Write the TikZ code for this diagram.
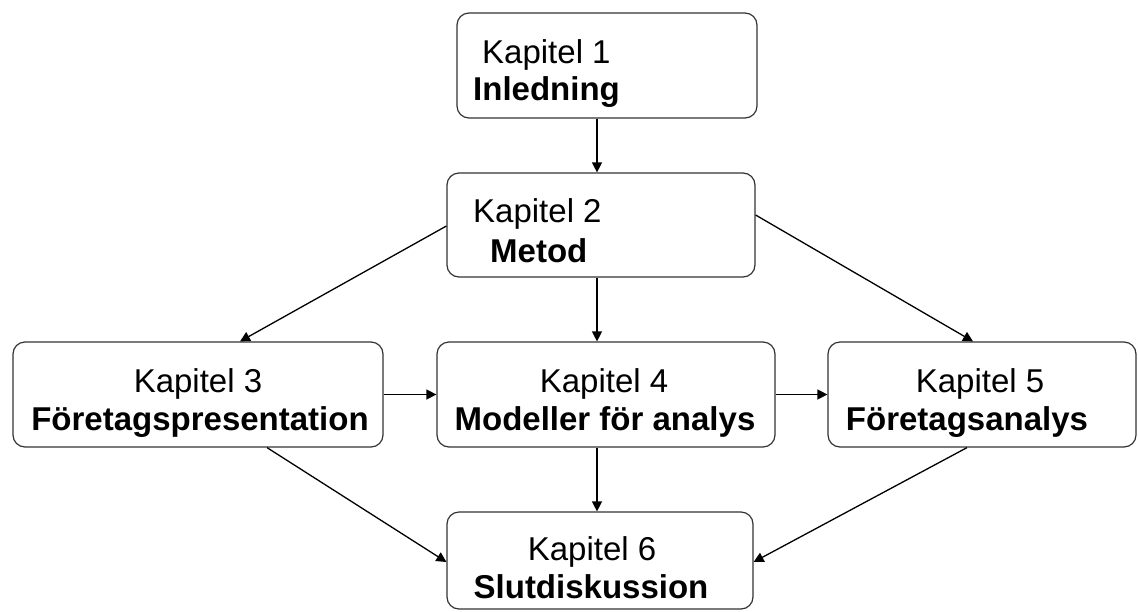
\documentclass[tikz,border=0pt]{standalone}
\usepackage{fontspec}
\setmainfont{Liberation Sans}
\usetikzlibrary{arrows.meta}
\begin{document}
\begin{tikzpicture}[x=1pt,y=-1pt,
  box/.style={draw=black!80, line width=1.2pt, rounded corners=12pt, rectangle, inner sep=0pt, fill=white},
  arr/.style={draw=black, line width=1.3pt, -{Triangle[length=10pt,width=10pt]}},
  lab/.style={inner sep=0pt, font=\fontsize{33}{38}\selectfont},
  blab/.style={lab, font=\fontsize{33}{38}\selectfont\bfseries}]
\useasboundingbox (0,0) rectangle (1138,611);
% boxes
\node[box, minimum width=300pt, minimum height=105pt] (b1) at (607,65.5) {};
\node[box, minimum width=308pt, minimum height=104pt] (b2) at (601,225) {};
\node[box, minimum width=370pt, minimum height=105pt] (b3) at (198,394.5) {};
\node[box, minimum width=338pt, minimum height=105pt] (b4) at (606,394.5) {};
\node[box, minimum width=308pt, minimum height=105pt] (b5) at (982,394.5) {};
\node[box, minimum width=306pt, minimum height=97pt] (b6) at (600,560.5) {};
% texts
\node[lab, anchor=base west] (t1a) at (482,63) {Kapitel 1};
\node[blab, anchor=base west] (t1b) at (473,100) {Inledning};
\node[lab, anchor=base west] (t2a) at (473,222) {Kapitel 2};
\node[blab, anchor=base west] (t2b) at (490,262) {Metod};
\node[lab, anchor=base] (t3a) at (198,392) {Kapitel 3};
\node[blab, anchor=base] (t3b) at (200,430) {Företagspresentation};
\node[lab, anchor=base] (t4a) at (604,392) {Kapitel 4};
\node[blab, anchor=base] (t4b) at (605,430) {Modeller för analys};
\node[lab, anchor=base] (t5a) at (980,392) {Kapitel 5};
\node[blab, anchor=base] (t5b) at (967,430) {Företagsanalys};
\node[lab, anchor=base] (t6a) at (592,560) {Kapitel 6};
\node[blab, anchor=base] (t6b) at (591,598) {Slutdiskussion};
% helper coordinates
\coordinate (xm) at (597,0);
\coordinate (x3t) at (240,0);
\coordinate (x5t) at (973,0);
\coordinate (x3b) at (267,0);
\coordinate (x5b) at (967,0);
\coordinate (y2l) at (0,226);
\coordinate (y2r) at (0,215);
\coordinate (y6) at (0,562);
% connectors
\draw[arr] (b1.south -| xm) -- (b2.north -| xm);
\draw[arr] (b2.south -| xm) -- (b4.north -| xm);
\draw[arr] (b4.south -| xm) -- (b6.north -| xm);
\draw[arr] (b2.west |- y2l) -- (b3.north -| x3t);
\draw[arr] (b2.east |- y2r) -- (b5.north -| x5t);
\draw[arr] (b3.east) -- (b4.west);
\draw[arr] (b4.east) -- (b5.west);
\draw[arr] (b3.south -| x3b) -- (b6.west |- y6);
\draw[arr] (b5.south -| x5b) -- (b6.east |- y6);
\end{tikzpicture}
\end{document}
